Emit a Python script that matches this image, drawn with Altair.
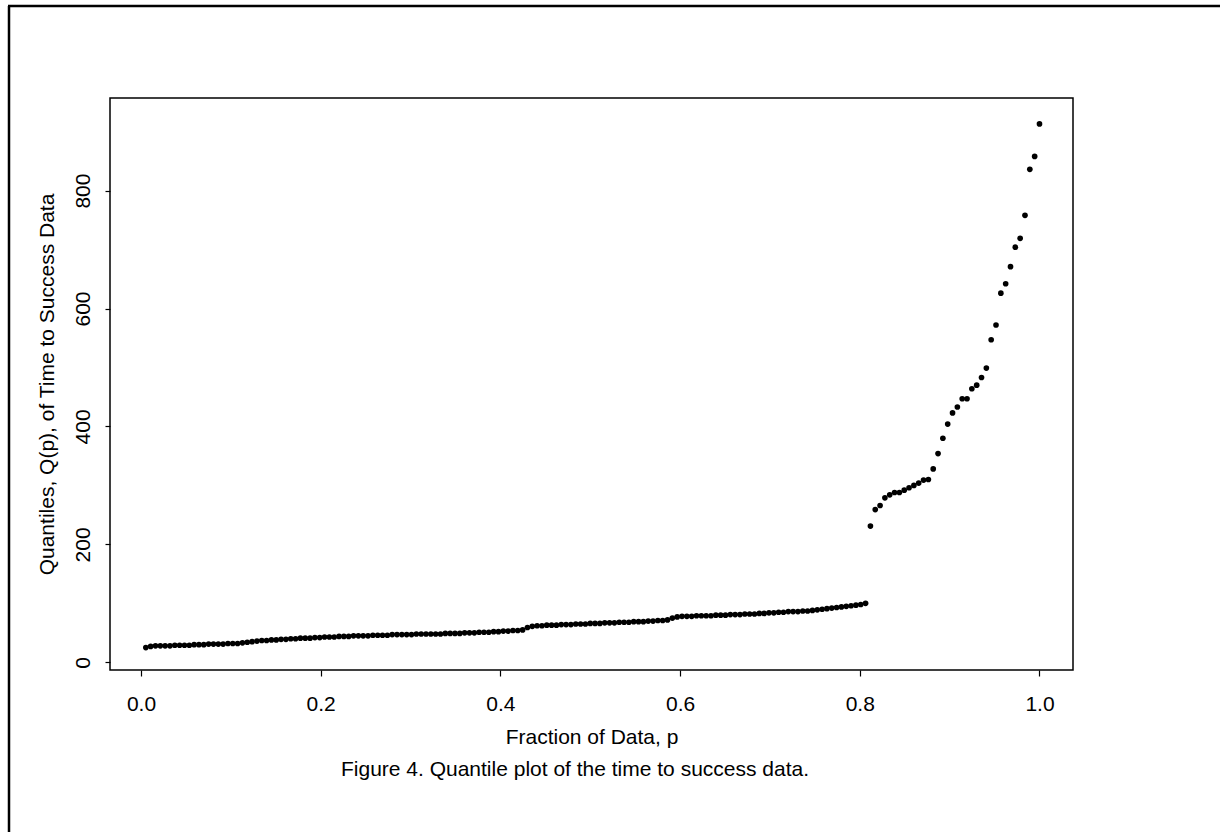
import altair as alt
import pandas as pd

# Quantile values Q(p), ordered (time to success data)
lower_q = [
    25, 27, 28, 28, 28, 28,
    29, 29, 29, 29, 30, 30,
    30, 31, 31, 31, 31, 32, 32, 32,
    33, 34, 35, 36, 37,
    37, 38, 38, 39, 39, 40, 40,
    41, 41, 41, 42, 42,
    43, 43, 43, 44, 44, 44, 45, 45, 45, 45, 46, 46,
    46, 46, 47, 47, 47, 47, 47, 48, 48, 48, 48, 48, 48, 49, 49, 49, 49,
    50, 50, 50, 51, 51, 51, 52, 52, 53, 53, 54, 54, 55,
    59,
    61, 62, 62, 63, 63, 63, 64, 64, 64, 65,
    65, 65, 66, 66, 66, 67, 67, 67, 68, 68,
    68, 69, 69, 69, 70, 70, 71, 71, 72,
    75,
    77, 78, 78, 78, 79, 79, 79, 79, 80, 80,
    80, 81, 81, 81, 82, 82, 82, 83, 83, 84,
    84, 85, 85, 86, 86, 86, 87, 87, 88, 89,
    90, 91, 92, 93, 94, 95, 96, 97, 98, 100,
]
upper_q = [
    231, 259, 266, 279, 284, 288, 288, 292, 296, 300, 304, 309, 310,
    328, 354, 380, 404, 423, 433, 447, 447, 464, 470, 483, 499,
    547, 572, 626, 642, 671, 704, 719, 758, 836, 858, 913,
]
q_values = lower_q + upper_q
n_obs = len(q_values)
# fraction of data p = rank / n
p_values = [(i + 1) / n_obs for i in range(n_obs)]

x_ticks = [0.0, 0.2, 0.4, 0.6, 0.8, 1.0]
y_ticks = [0, 200, 400, 600, 800]

x_title = "Fraction of Data, p"
y_title = "Quantiles, Q(p), of Time to Success Data"
caption = "Figure 4. Quantile plot of the time to success data."

df = pd.DataFrame({"p": p_values, "q": q_values})

FONT = "Liberation Sans"
FS = 21
W, H = 963, 572

points = alt.Chart(df).mark_circle(color="black", opacity=1, size=32).encode(
    x=alt.X(
        "p:Q",
        scale=alt.Scale(domain=[-0.0345, 1.0373], nice=False, zero=False),
        axis=alt.Axis(
            values=x_ticks, format=".1f", title=x_title, grid=False, domain=False,
            tickSize=6, labelPadding=17, titlePadding=12,
        ),
    ),
    y=alt.Y(
        "q:Q",
        scale=alt.Scale(domain=[-13, 957], nice=False, zero=False),
        axis=alt.Axis(
            values=y_ticks, format="d", title=y_title, grid=False, domain=False,
            tickSize=5, labelAngle=270, labelAlign="center", labelBaseline="bottom",
            labelPadding=12, titlePadding=15,
        ),
    ),
)

one = pd.DataFrame({"t": [caption]})

caption_text = alt.Chart(one).mark_text(
    font=FONT, fontSize=FS, color="black", align="center", baseline="middle"
).encode(text="t:N", x=alt.value(465), y=alt.value(672))

left_border = alt.Chart(one).mark_rule(color="black", strokeWidth=2.5).encode(
    x=alt.value(-101), y=alt.value(-92), y2=alt.value(734)
)
top_border = alt.Chart(one).mark_rule(color="black", strokeWidth=2.5).encode(
    x=alt.value(-102), x2=alt.value(1110), y=alt.value(-92)
)

chart = (
    alt.layer(points, caption_text, left_border, top_border)
    .properties(
        width=W,
        height=H,
        autosize=alt.AutoSizeParams(type="none"),
        padding={"left": 110, "top": 98, "right": 147, "bottom": 170},
        background="white",
    )
    .configure_view(stroke="black", strokeWidth=1.5)
    .configure_axis(
        labelFont=FONT, titleFont=FONT, labelFontSize=FS, titleFontSize=FS,
        titleFontWeight="normal", labelColor="black", titleColor="black",
        tickColor="black", tickWidth=1.2,
    )
)

chart.save("out.html", embed_options={"renderer": "svg", "actions": False})
